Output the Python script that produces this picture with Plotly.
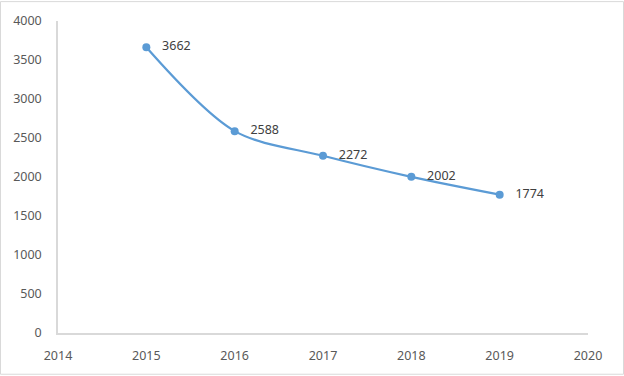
import plotly.graph_objects as go

years = [2015, 2016, 2017, 2018, 2019]
values = [3662, 2588, 2272, 2002, 1774]
labels = ["   " + str(v) for v in values]

W, H = 624, 376
ml, mr, mt, mb = 58, 36, 20, 42
pw, ph = W - ml - mr, H - mt - mb

fig = go.Figure()
fig.add_trace(go.Scatter(
    x=years, y=values, mode="lines+markers+text",
    text=labels, textposition="middle right",
    textfont=dict(family="Noto Sans", size=12.5, color="#404040"),
    line=dict(color="#5B9BD5", width=2.25, shape="spline", smoothing=0.9),
    marker=dict(color="#5B9BD5", size=8),
    cliponaxis=False,
))

fig.update_layout(
    width=W, height=H,
    margin=dict(l=ml, r=mr, t=mt, b=mb),
    paper_bgcolor="white", plot_bgcolor="white",
    showlegend=False,
    xaxis=dict(range=[2014, 2020], dtick=1, tick0=2014, showgrid=False, zeroline=False,
               showline=True, linecolor="#d9d9d9", linewidth=1.5, ticks="",
               ticklabelstandoff=10,
               tickfont=dict(family="Noto Sans", size=12.5, color="#595959")),
    yaxis=dict(range=[0, 4000], dtick=500, showgrid=False, zeroline=False,
               showline=True, linecolor="#d9d9d9", linewidth=1.5, ticks="",
               ticklabelstandoff=12,
               tickfont=dict(family="Noto Sans", size=12.5, color="#595959")),
)

fig.add_shape(type="rect", xref="paper", yref="paper",
              x0=(-ml + 0.5) / pw, x1=1 + (mr - 0.5) / pw,
              y0=(-mb + 0.5) / ph, y1=1 + (mt - 0.5) / ph,
              line=dict(color="#d9d9d9", width=1))

fig.write_html("out.html")
